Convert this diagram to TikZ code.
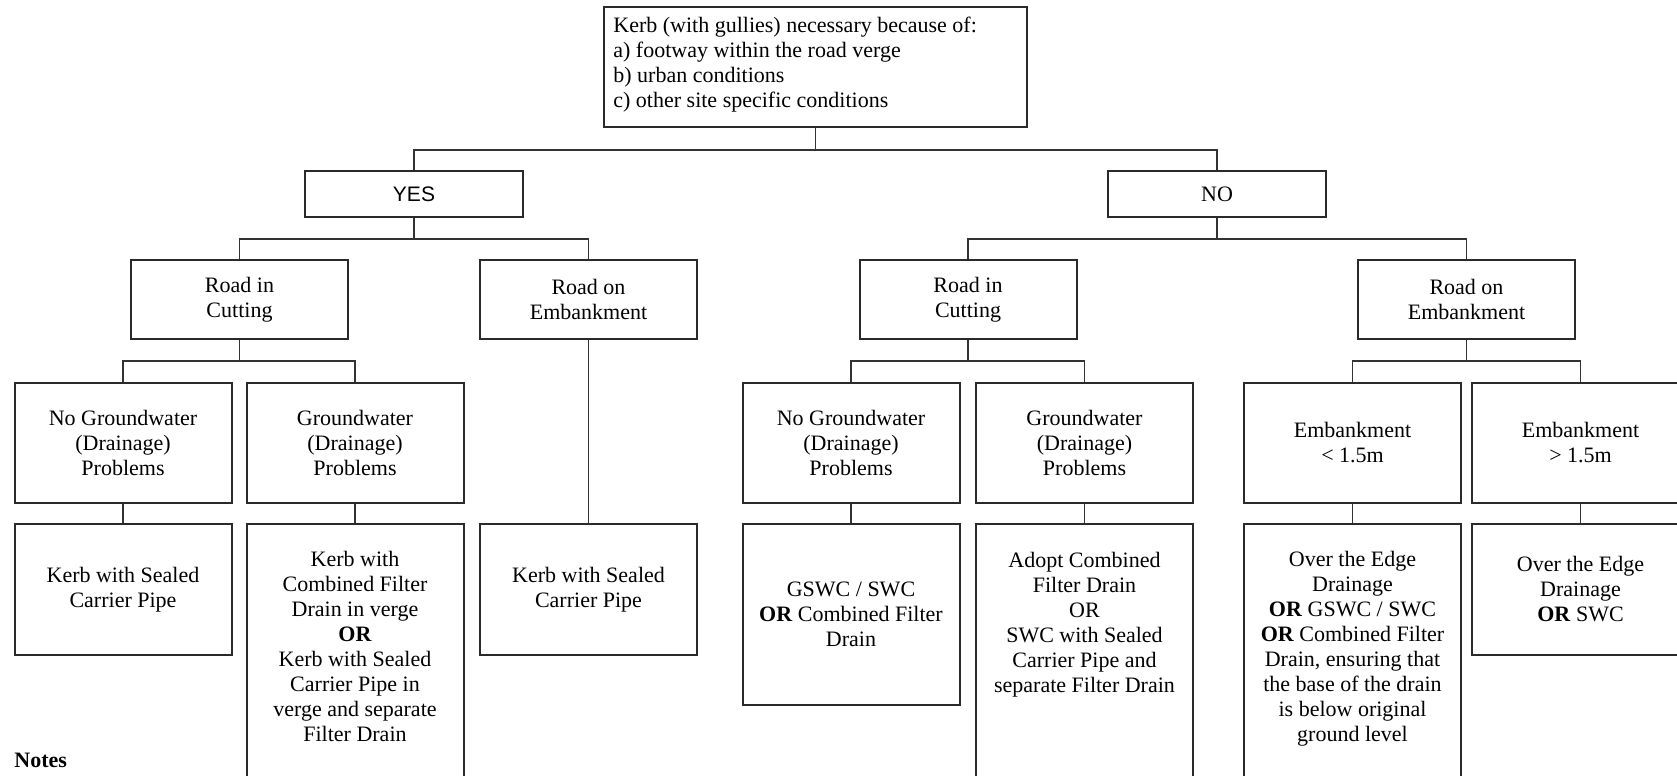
\documentclass[tikz,border=0pt]{standalone}
\usepackage{fontspec}
\setmainfont{Liberation Serif}
\newfontfamily\arialfont{Liberation Sans}
\definecolor{boxc}{HTML}{2A2A2A}
\definecolor{linec}{HTML}{333333}
\begin{document}
\begin{tikzpicture}[x=0.5pt,y=-0.5pt,
  every node/.style={inner sep=0pt, align=center, font=\fontsize{11}{12.5}\selectfont},
  box/.style={draw=boxc, line width=1pt},
  wbox/.style={box, minimum width=108.5pt},
  txt/.style={},
  conn/.style={draw=linec, line width=0.8pt}]
\useasboundingbox[fill=white] (0,0) rectangle (1677,776);

% top
\node[box, minimum width=211.5pt, minimum height=60pt] (top) at (815.5,67) {};
\node[txt, anchor=west, align=left] (toptext) at (613,64.7) {Kerb (with gullies) necessary because of:\\a) footway within the road verge\\b) urban conditions\\c) other site specific conditions};

% level 1
\node[box, minimum width=109pt, minimum height=23pt, font=\arialfont\fontsize{10.5}{12}\selectfont] (yes) at (414,194) {YES};
\node[box, minimum width=109pt, minimum height=23pt] (no) at (1217,194) {NO};

% level 2
\node[wbox, minimum height=39.5pt] (a) at (239.5,299.5) {Road in\\Cutting};
\node[wbox, minimum height=39.5pt] (b) at (588.5,299.5) {Road on\\Embankment};
\node[wbox, minimum height=39.5pt] (c) at (968,299.5) {Road in\\Cutting};
\node[wbox, minimum height=39.5pt] (d) at (1466.5,299.5) {Road on\\Embankment};

% level 3
\node[wbox, minimum height=60pt] (a1) at (123,443) {No Groundwater\\(Drainage)\\Problems};
\node[wbox, minimum height=60pt] (a2) at (355,443) {Groundwater\\(Drainage)\\Problems};
\node[wbox, minimum height=60pt] (c1) at (851,443) {No Groundwater\\(Drainage)\\Problems};
\node[wbox, minimum height=60pt] (c2) at (1084.5,443) {Groundwater\\(Drainage)\\Problems};
\node[wbox, minimum height=60pt] (d1) at (1352.5,443) {Embankment\\< 1.5m};
\node[wbox, minimum height=60pt] (d2) at (1580.5,443) {Embankment\\> 1.5m};

% level 4
\node[wbox, minimum height=65.5pt] (a1r) at (123,589.5) {Kerb with Sealed\\Carrier Pipe};
\node[wbox, minimum height=133pt] (a2r) at (355,657) {};
\node[txt] (a2t) at (355,646.5) {Kerb with\\Combined Filter\\Drain in verge\\\textbf{OR}\\Kerb with Sealed\\Carrier Pipe in\\verge and separate\\Filter Drain};
\node[wbox, minimum height=65.5pt] (br) at (588.5,589.5) {Kerb with Sealed\\Carrier Pipe};
\node[wbox, minimum height=90.5pt] (c1r) at (851,614.5) {GSWC / SWC\\\textbf{OR} Combined Filter\\Drain};
\node[wbox, minimum height=133pt] (c2r) at (1084.5,657) {};
\node[txt] (c2t) at (1084.5,625) {Adopt Combined\\Filter Drain\\OR\\SWC with Sealed\\Carrier Pipe and\\separate Filter Drain};
\node[wbox, minimum height=133pt] (d1r) at (1352.5,657) {};
\node[txt] (d1t) at (1352.5,649) {Over the Edge\\Drainage\\\textbf{OR} GSWC / SWC\\\textbf{OR} Combined Filter\\Drain, ensuring that\\the base of the drain\\is below original\\ground level};
\node[wbox, minimum height=65.5pt] (d2r) at (1580.5,589.5) {Over the Edge\\Drainage\\\textbf{OR} SWC};

\node[txt, anchor=west, font=\bfseries\fontsize{11}{12.5}\selectfont] (notes) at (14,760) {Notes};

% connectors
\draw[conn] (top.south) -- ++(0,22) coordinate (j0);
\draw[conn] (yes.north) |- (j0) -| (no.north);
\draw[conn] (yes.south) -- ++(0,21) coordinate (j1);
\draw[conn] (a.north) |- (j1) -| (b.north);
\draw[conn] (no.south) -- ++(0,21) coordinate (j2);
\draw[conn] (c.north) |- (j2) -| (d.north);
\draw[conn] (a.south) -- ++(0,21) coordinate (j3);
\draw[conn] (a1.north) |- (j3) -| (a2.north);
\draw[conn] (c.south) -- ++(0,21) coordinate (j4);
\draw[conn] (c1.north) |- (j4) -| (c2.north);
\draw[conn] (d.south) -- ++(0,21) coordinate (j5);
\draw[conn] (d1.north) |- (j5) -| (d2.north);
\draw[conn] (b.south) -- (br.north);
\draw[conn] (a1.south) -- (a1r.north);
\draw[conn] (a2.south) -- (a2r.north);
\draw[conn] (c1.south) -- (c1r.north);
\draw[conn] (c2.south) -- (c2r.north);
\draw[conn] (d1.south) -- (d1r.north);
\draw[conn] (d2.south) -- (d2r.north);
\end{tikzpicture}
\end{document}
